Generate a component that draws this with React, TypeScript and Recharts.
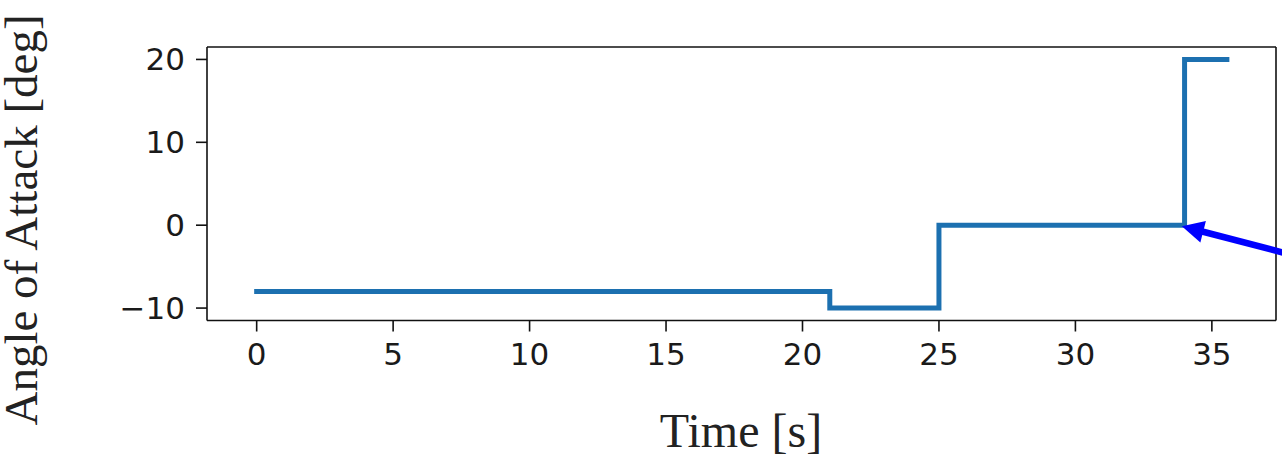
import React from 'react';
import { LineChart, Line, XAxis, YAxis, ReferenceLine } from 'recharts';

const times = [0, 21, 25, 34, 35.55];
const angles = [-8, -10, 0, 20, 20];
const xTicks = [0, 5, 10, 15, 20, 25, 30, 35];
const yTicks = [-10, 0, 10, 20];
const xDomain = [-1.82, 37.35];
const yDomain = [-11.5, 21.5];
const arrowTip = { x: 33.9, y: -0.12 };
const arrowTail = { x: 38.3, y: -3.9 };

const data = times.map((t, i) => ({ t, a: angles[i] }));

const tickStyle = { fontFamily: 'DejaVu Sans', fontSize: 31, fill: '#1a1a1a' };
const fmt = (v: number) => (v < 0 ? '\u2212' + Math.abs(v) : String(v));

const ArrowShape = (props: any) => {
  const { x1, y1, x2, y2 } = props;
  const dx = x2 - x1;
  const dy = y2 - y1;
  const len = Math.sqrt(dx * dx + dy * dy) || 1;
  const ux = dx / len;
  const uy = dy / len;
  const hl = 22;
  const hw = 11;
  const bx = x1 + ux * hl;
  const by = y1 + uy * hl;
  const px = -uy;
  const py = ux;
  const pts = `${x1},${y1} ${bx + px * hw},${by + py * hw} ${bx - px * hw},${by - py * hw}`;
  return (
    <g>
      <line x1={bx - ux * 2} y1={by - uy * 2} x2={x2} y2={y2} stroke="#0000ff" strokeWidth={6.5} />
      <polygon points={pts} fill="#0000ff" />
    </g>
  );
};

export default function App() {
  return (
    <div style={{ position: 'absolute', left: 0, top: 0, width: 1282, height: 459, background: '#fff' }}>
      <LineChart
        width={1282}
        height={459}
        data={data}
        margin={{ top: 47, right: 6, bottom: 0, left: 0 }}
      >
        <XAxis
          dataKey="t"
          type="number"
          domain={xDomain}
          ticks={xTicks}
          allowDataOverflow
          height={138.5}
          tickSize={11}
          tickMargin={11.5}
          tick={tickStyle}
          tickFormatter={fmt}
          stroke="#111"
          strokeWidth={1.6}
          tickLine={{ stroke: '#111', strokeWidth: 1.6 }}
        />
        <YAxis
          type="number"
          domain={yDomain}
          ticks={yTicks}
          allowDataOverflow
          width={207}
          tickSize={11}
          tickMargin={11}
          tick={tickStyle}
          tickFormatter={fmt}
          stroke="#111"
          strokeWidth={1.6}
          tickLine={{ stroke: '#111', strokeWidth: 1.6 }}
        />
        <ReferenceLine x={xDomain[1]} stroke="#111" strokeWidth={1.6} ifOverflow="visible" />
        <ReferenceLine y={yDomain[1]} stroke="#111" strokeWidth={1.6} ifOverflow="visible" />
        <Line
          type="stepAfter"
          dataKey="a"
          stroke="#1c70b0"
          strokeWidth={5}
          strokeLinecap="square"
          dot={false}
          isAnimationActive={false}
        />
        <ReferenceLine
          segment={[arrowTip, arrowTail]}
          ifOverflow="visible"
          shape={ArrowShape}
        />
      </LineChart>
      <svg
        width={1282}
        height={459}
        style={{ position: 'absolute', left: 0, top: 0, pointerEvents: 'none' }}
      >
        <text
          x={741}
          y={446.7}
          textAnchor="middle"
          fontFamily="Liberation Serif"
          fontSize={48}
          fill="#222"
        >
          Time [s]
        </text>
        <text
          transform="translate(37,220) rotate(-90)"
          textAnchor="middle"
          fontFamily="Liberation Serif"
          fontSize={47}
          fill="#222"
        >
          Angle of Attack [deg]
        </text>
      </svg>
    </div>
  );
}
